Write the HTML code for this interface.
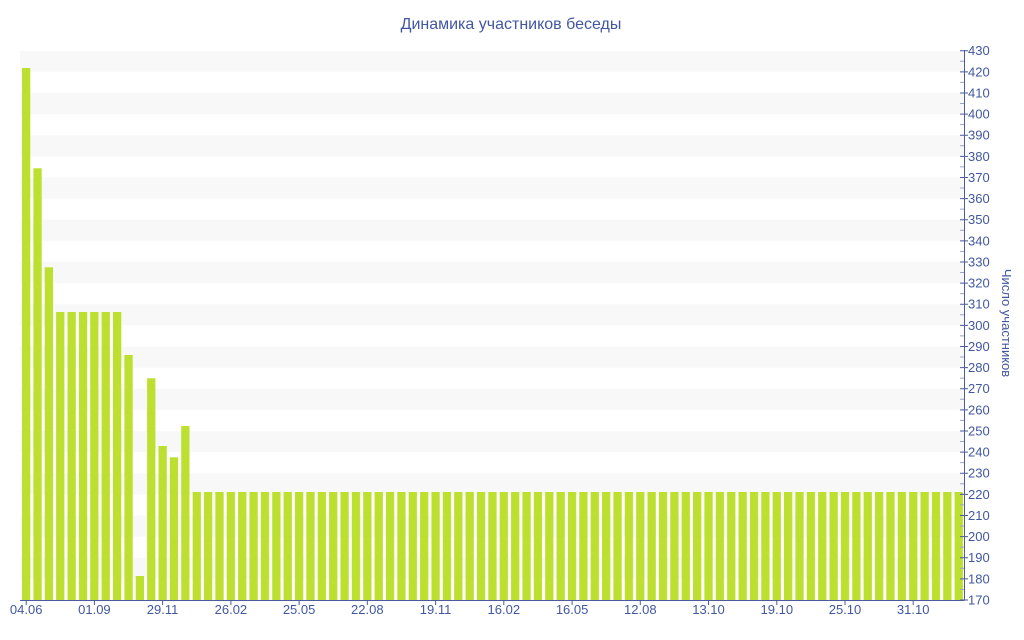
<!DOCTYPE html>
<html><head><meta charset="utf-8"><style>
html,body{margin:0;padding:0;background:#fff;}
svg{display:block;}
text{font-family:"Liberation Sans",Tahoma,sans-serif;fill:#4257a2;}
</style></head><body>
<svg width="1024" height="640" viewBox="0 0 1024 640" xmlns="http://www.w3.org/2000/svg">
<defs>
<pattern id="band" patternUnits="userSpaceOnUse" x="20" y="50.7" width="944" height="42.254">
<rect x="0" y="0" width="944" height="21.127" fill="#f8f8f8"/>
</pattern>
<pattern id="bar" patternUnits="userSpaceOnUse" x="22" y="492" width="11.373" height="108">
<rect x="0" y="0" width="8.3" height="108" fill="#bde030"/>
</pattern>
</defs>
<text x="511" y="29" font-size="16" text-anchor="middle">Динамика участников беседы</text>
<rect x="20" y="50.7" width="944" height="528.2" fill="url(#band)"/>
<g fill="#bde030">
<rect x="22.0" y="68" width="8.3" height="532"/>
<rect x="33.4" y="168.3" width="8.3" height="431.7"/>
<rect x="44.7" y="267.3" width="8.3" height="332.7"/>
<rect x="56.1" y="312" width="8.3" height="288"/>
<rect x="67.5" y="312" width="8.3" height="288"/>
<rect x="78.9" y="312" width="8.3" height="288"/>
<rect x="90.2" y="312" width="8.3" height="288"/>
<rect x="101.6" y="312" width="8.3" height="288"/>
<rect x="113.0" y="312" width="8.3" height="288"/>
<rect x="124.4" y="355" width="8.3" height="245"/>
<rect x="135.7" y="576" width="8.3" height="24"/>
<rect x="147.1" y="378.3" width="8.3" height="221.7"/>
<rect x="158.5" y="446" width="8.3" height="154"/>
<rect x="169.8" y="457.3" width="8.3" height="142.7"/>
<rect x="181.2" y="426" width="8.3" height="174"/>
</g>
<rect x="192.6" y="492" width="770.4" height="108" fill="url(#bar)"/>
<g stroke="#4a5b9e" fill="none">
<line x1="20" y1="600.5" x2="964.5" y2="600.5"/>
<line x1="964.5" y1="50" x2="964.5" y2="600.5"/>
<line x1="26.2" y1="600" x2="26.2" y2="605" stroke-dasharray="none"/>
<path d="M94.4 600V605M162.6 600V605M230.9 600V605M299.1 600V605M367.3 600V605M435.6 600V605M503.8 600V605M572.1 600V605M640.3 600V605M708.5 600V605M776.8 600V605M845.0 600V605M913.2 600V605"/>
<line x1="964" y1="50.2" x2="964" y2="601" stroke-width="8" stroke-dasharray="1 20.127"/>
<line x1="962" y1="60.76" x2="962" y2="601" stroke-width="4" stroke="#9aa4c8" stroke-dasharray="1 20.127"/>
</g>
<g font-size="13" text-anchor="middle">
<text x="26.2" y="614">04.06</text>
<text x="94.4" y="614">01.09</text>
<text x="162.6" y="614">29.11</text>
<text x="230.9" y="614">26.02</text>
<text x="299.1" y="614">25.05</text>
<text x="367.3" y="614">22.08</text>
<text x="435.6" y="614">19.11</text>
<text x="503.8" y="614">16.02</text>
<text x="572.1" y="614">16.05</text>
<text x="640.3" y="614">12.08</text>
<text x="708.5" y="614">13.10</text>
<text x="776.8" y="614">19.10</text>
<text x="845.0" y="614">25.10</text>
<text x="913.2" y="614">31.10</text>
</g>
<g font-size="13">
<text x="968" y="604.5">170</text>
<text x="968" y="583.4">180</text>
<text x="968" y="562.2">190</text>
<text x="968" y="541.1">200</text>
<text x="968" y="520">210</text>
<text x="968" y="498.9">220</text>
<text x="968" y="477.7">230</text>
<text x="968" y="456.6">240</text>
<text x="968" y="435.5">250</text>
<text x="968" y="414.4">260</text>
<text x="968" y="393.2">270</text>
<text x="968" y="372.1">280</text>
<text x="968" y="351">290</text>
<text x="968" y="329.9">300</text>
<text x="968" y="308.7">310</text>
<text x="968" y="287.6">320</text>
<text x="968" y="266.5">330</text>
<text x="968" y="245.3">340</text>
<text x="968" y="224.2">350</text>
<text x="968" y="203.1">360</text>
<text x="968" y="182">370</text>
<text x="968" y="160.8">380</text>
<text x="968" y="139.7">390</text>
<text x="968" y="118.6">400</text>
<text x="968" y="97.5">410</text>
<text x="968" y="76.3">420</text>
<text x="968" y="55.2">430</text>
</g>
<text transform="translate(1002 323) rotate(90)" font-size="13" text-anchor="middle">Число участников</text>
</svg>
</body></html>
